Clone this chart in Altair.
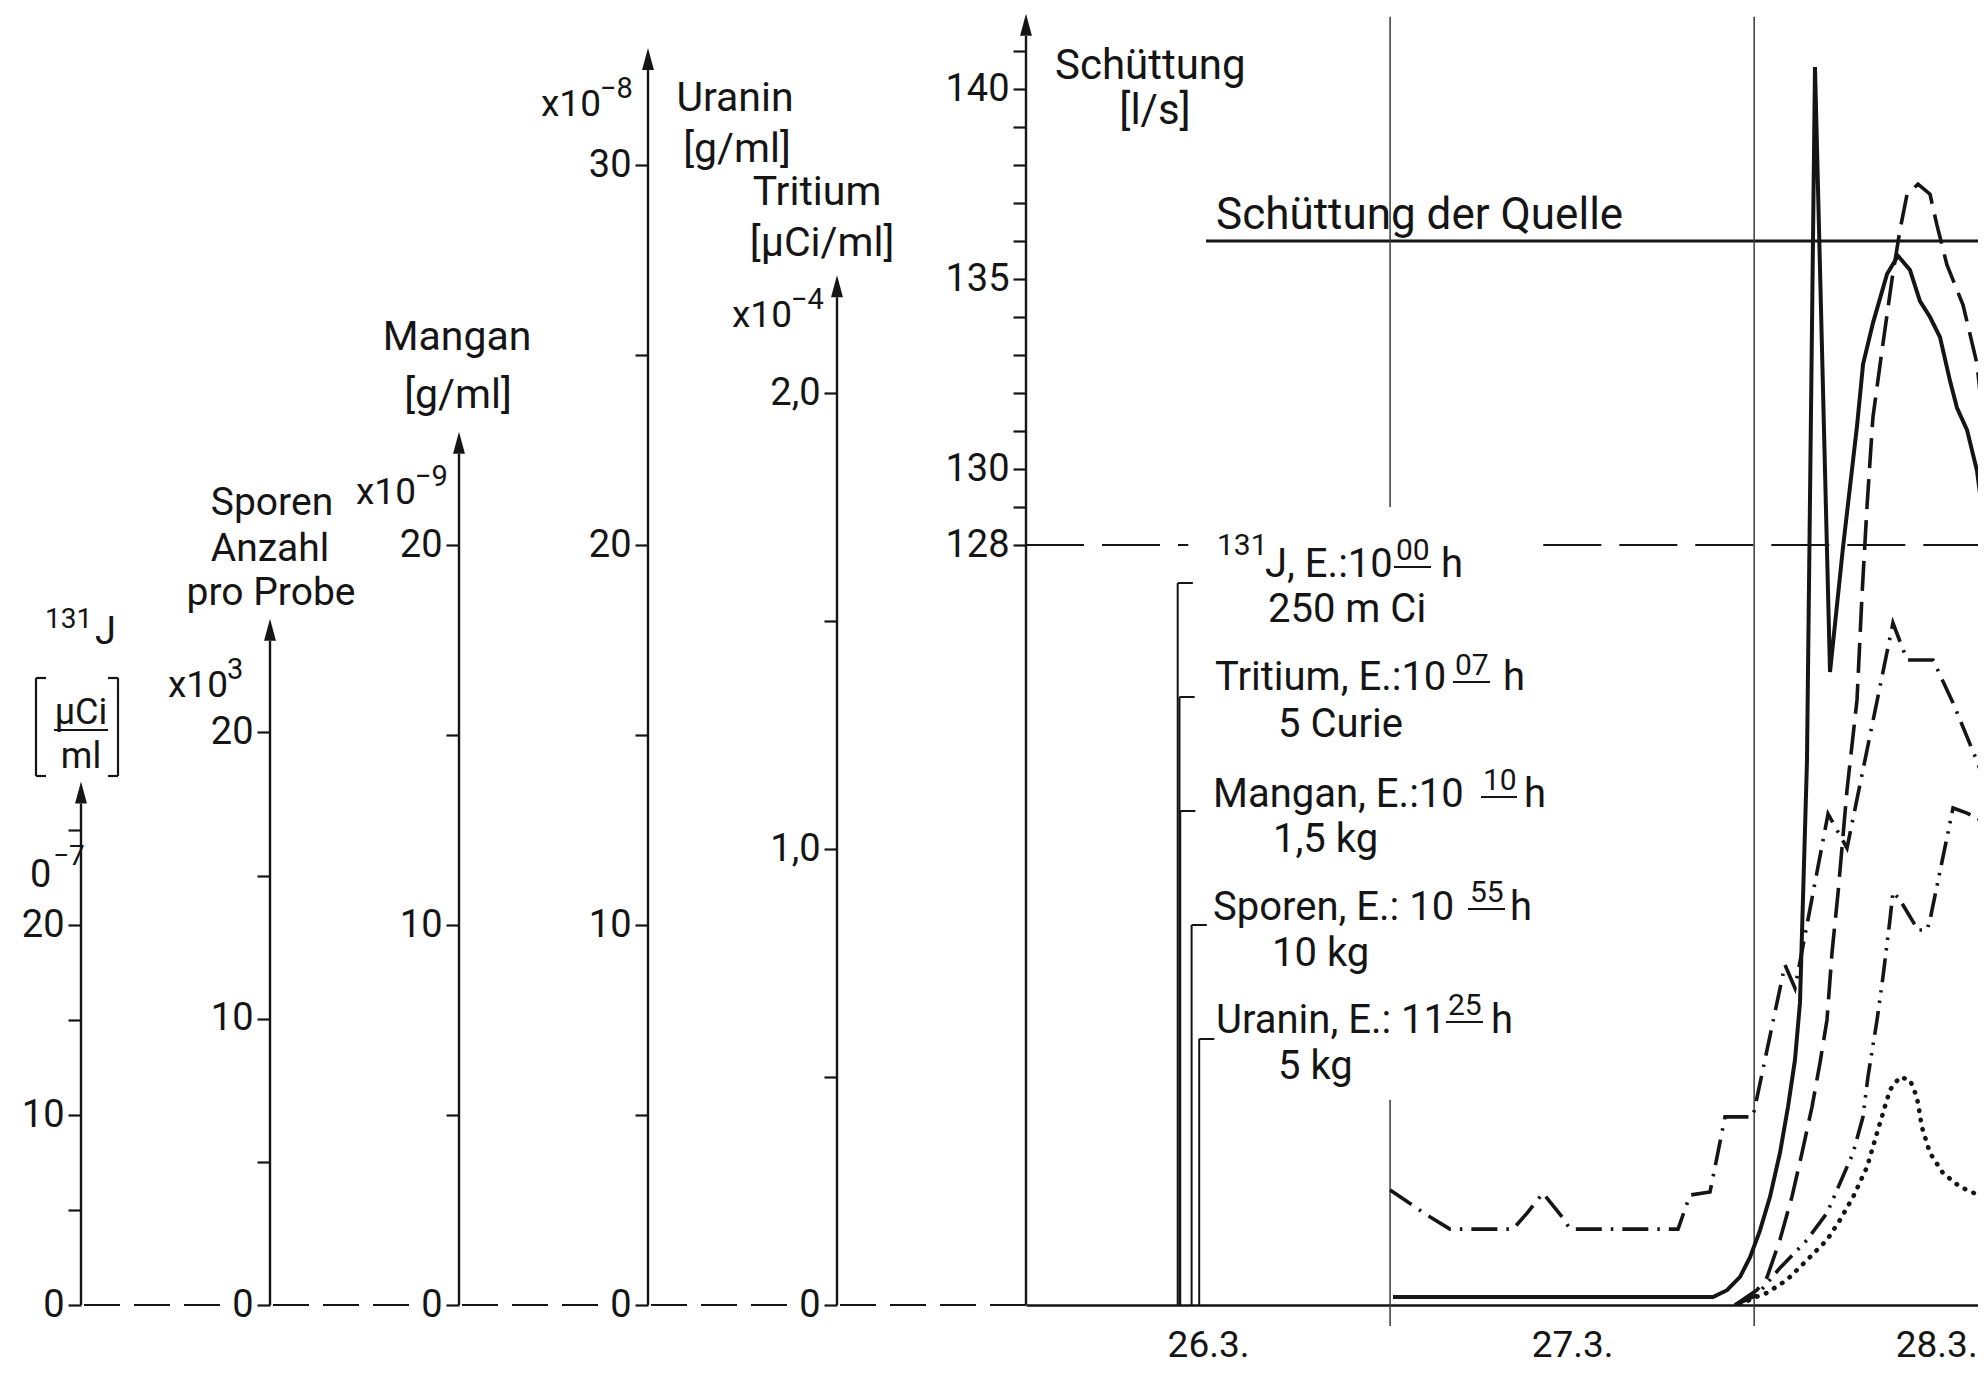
import altair as alt
import pandas as pd

INK = "#151515"
FONT = "Roboto"

# ---------------- data ----------------
# time axis: hours after 26.3. 00:00
day_labels = ["26.3.", "27.3.", "28.3."]
day_label_hours = [12, 36, 60]
day_line_hours = [24, 48]

# injections (Eingabe) of the tracers on 26.3.
inj_tracer = ["131J", "Tritium", "Mangan", "Sporen", "Uranin"]
inj_hour = [10 + 0 / 60, 10 + 7 / 60, 10 + 10 / 60, 10 + 55 / 60, 11 + 25 / 60]
inj_level = [127, 124, 121, 118, 115]  # l/s level of the label bracket

# spring discharge
quelle_ls = 136
quelle_from_h = 11.87
ref_ls = 128

# Uranin [x10^-8 g/ml]  (solid)
uranin_h = [24.19, 45.29, 46.21, 47.07, 47.73, 48.39, 49.04, 49.70, 50.23, 50.69,
            51.02, 51.48, 52.01, 53.0, 53.86, 54.78, 55.18, 55.83, 56.76, 57.48,
            58.27, 58.93, 59.59, 60.25, 60.91, 61.37, 62.03, 62.69, 63.28]
uranin_v = [0.21, 0.21, 0.39, 0.74, 1.26, 1.97, 2.84, 4.0, 5.21, 6.45,
            7.95, 14.29, 32.58, 16.66, 19.95, 23.13, 24.76, 25.84, 27.13, 27.61,
            27.24, 26.42, 26.0, 25.47, 24.32, 23.61, 23.03, 21.95, 20.18]

# Tritium [x10^-4 µCi/ml]  (dashed)
tritium_h = [46.74, 48.19, 48.85, 49.70, 50.49, 51.15, 51.81, 52.34, 52.80, 53.13,
             53.53, 54.12, 54.78, 55.11, 55.44, 55.83, 56.43, 57.09, 57.61, 58.08,
             58.80, 59.59, 60.05, 60.71, 61.77, 62.69, 63.28]
tritium_v = [0, 0.033, 0.061, 0.143, 0.237, 0.333, 0.434, 0.531, 0.625, 0.772,
             0.904, 1.129, 1.327, 1.557, 1.752, 1.947, 2.094, 2.25, 2.357, 2.436,
             2.458, 2.436, 2.368, 2.281, 2.193, 2.064, 1.879]

# Sporen [x10^3 Anzahl pro Probe]  (dash-dot)
sporen_h = [24.0, 26.43, 27.95, 32.10, 33.03, 34.08, 35.40, 35.86, 42.98, 43.77,
            45.09, 46.08, 47.92, 50.03, 50.69, 52.87, 54.12, 57.15, 58.08, 59.79,
            61.11, 62.69, 63.28]
sporen_v = [4.02, 3.14, 2.65, 2.65, 3.21, 3.91, 3.04, 2.65, 2.65, 3.84,
            3.95, 6.57, 6.57, 11.88, 11.07, 17.15, 15.96, 23.82, 22.53, 22.53,
            21.03, 19.0, 18.13]

# 131J [x10^-7 µCi/ml]  (dash-dot-dot)
j131_h = [46.74, 48.19, 49.70, 51.48, 52.80, 53.66, 54.52, 55.17, 55.50, 56.10,
          56.49, 56.95, 57.15, 57.61, 58.80, 59.39, 59.59, 61.11, 62.03, 62.69, 63.28]
j131_v = [0, 0.53, 1.95, 3.42, 4.84, 6.42, 8.0, 9.89, 12.0, 15.0,
          17.26, 20.26, 21.74, 21.32, 19.74, 19.74, 20.26, 26.16, 25.89, 25.63, 25.37]

# Mangan [x10^-9 g/ml]  (dotted)
mangan_h = [47.07, 47.92, 48.85, 50.16, 51.48, 52.80, 53.66, 54.52, 55.44, 56.10,
            56.49, 56.95, 57.61, 58.27, 58.73, 59.06, 59.59, 60.45, 61.57, 63.08]
mangan_v = [0, 0.18, 0.32, 0.66, 1.18, 1.71, 2.24, 2.84, 3.63, 4.53,
            5.05, 5.66, 6.0, 5.92, 5.47, 4.68, 4.0, 3.47, 3.11, 2.84]

# ---------------- layout ----------------
PX0, PY0 = 1026, 13          # page position of the plot area's top-left corner
W, H = 952, 1292
PX_PER_H = 15.17
XMAX = W / PX_PER_H
AXIS_PX = [81, 270, 459, 648, 837, 1026]   # page x of the six vertical axes
ARROW = "M-0.27,0 L0,-1 L0.27,0 Z"

xsc = alt.Scale(domain=[0, XMAX], nice=False, zero=False)
QUIET = alt.Axis(title="")   # sibling layers: merge into the one defined axis


def px(x):
    return alt.value(x - PX0)


def py(y):
    return alt.value(y - PY0)


def yaxis(ax_px, values, expr):
    return alt.Axis(orient="left", offset=PX0 - ax_px, domain=False, values=values,
                    labelExpr=expr, tickSize=13, tickWidth=2.2, tickColor=INK,
                    labelFontSize=38, labelFont=FONT, labelColor=INK, labelPadding=4,
                    grid=False, title="", labelOverlap=False, labelBound=False,
                    ticks=True, labels=True)


def tracer(h, v, dom, top, ax_px, values, expr, dash, width=3.6, cap="butt"):
    sc = alt.Scale(domain=dom, nice=False, zero=False)
    base = alt.Chart(pd.DataFrame({"lo": [dom[0]], "hi": [top]}))
    line = base.mark_rule(color=INK, strokeWidth=2.4).encode(
        x=alt.value(ax_px - PX0),
        y=alt.Y("lo:Q", scale=sc, axis=yaxis(ax_px, values, expr)),
        y2="hi:Q")
    arrow = base.mark_point(shape=ARROW, filled=True, size=1936, color=INK,
                            opacity=1, strokeWidth=0).encode(
        x=alt.value(ax_px - PX0), y=alt.Y("hi:Q", scale=sc, axis=QUIET))
    mk = dict(color=INK, strokeWidth=width, clip=True, strokeCap=cap)
    if dash:
        mk["strokeDash"] = dash
    curve = alt.Chart(pd.DataFrame({"h": h, "v": v})).mark_line(**mk).encode(
        x=alt.X("h:Q", scale=xsc, axis=QUIET),
        y=alt.Y("v:Q", scale=sc, axis=QUIET))
    return alt.layer(line, arrow, curve)


tens = "datum.value % 10 == 0 ? datum.label : ''"
l_j131 = tracer(j131_h, j131_v, [0, H / 19.0], 26.4, AXIS_PX[0], [0, 5, 10, 15, 20, 25],
                tens, [24, 8, 2.5, 8, 2.5, 8])
l_sporen = tracer(sporen_h, sporen_v, [0, H / 28.63], 23.2, AXIS_PX[1], [0, 5, 10, 15, 20],
                  tens, [26, 9, 2.5, 9])
l_mangan = tracer(mangan_h, mangan_v, [0, H / 38.0], 22.4, AXIS_PX[2], [0, 5, 10, 15, 20],
                  tens, [0.5, 9], width=4.6, cap="round")
l_uranin = tracer(uranin_h, uranin_v, [0, H / 38.0], 32.5, AXIS_PX[3],
                  [0, 5, 10, 15, 20, 25, 30], tens, None, width=4.0)
l_tritium = tracer(tritium_h, tritium_v, [0, H / 456.0], 2.21, AXIS_PX[4],
                   [0, 0.5, 1, 1.5, 2],
                   "datum.value == 0 ? '0' : (datum.value % 1 == 0 ? "
                   "replace(format(datum.value, '.1f'), '.', ',') : '')",
                   [30, 11])

# ---- Schüttung layer (l/s) ----
s_dom = [108, 142]
ssc = alt.Scale(domain=s_dom, nice=False, zero=False)
sbase = alt.Chart(pd.DataFrame({"lo": [s_dom[0]], "hi": [141.4]}))
s_axis = sbase.mark_rule(color=INK, strokeWidth=2.4).encode(
    x=alt.value(0),
    y=alt.Y("lo:Q", scale=ssc, axis=yaxis(PX0, list(range(128, 142)),
                                         "(datum.value == 128 || datum.value % 5 == 0) ? datum.label : ''")),
    y2="hi:Q")
s_arrow = sbase.mark_point(shape=ARROW, filled=True, size=1936, color=INK,
                           opacity=1, strokeWidth=0).encode(
    x=alt.value(0), y=alt.Y("hi:Q", scale=ssc, axis=QUIET))

xaxis = alt.Axis(values=day_label_hours,
                 labelExpr="datum.value == %d ? '%s' : datum.value == %d ? '%s' : '%s'" % (
                     day_label_hours[0], day_labels[0], day_label_hours[1], day_labels[1], day_labels[2]),
                 ticks=False, domain=True, domainColor=INK, domainWidth=2.5,
                 labelFontSize=37, labelFont=FONT, labelColor=INK, labelPadding=22,
                 grid=False, title="", labelFlush=False, labelBound=False,
                 labelOverlap=False, labels=True, orient="bottom")

quelle = alt.Chart(pd.DataFrame({"h0": [quelle_from_h], "h1": [XMAX], "v": [quelle_ls]})) \
    .mark_rule(color=INK, strokeWidth=3).encode(
    x=alt.X("h0:Q", scale=xsc, axis=xaxis), x2="h1:Q",
    y=alt.Y("v:Q", scale=ssc, axis=QUIET))

ref128 = alt.Chart(pd.DataFrame({"h0": [0, 34.1], "h1": [10.7, XMAX], "v": [ref_ls, ref_ls]})) \
    .mark_rule(color=INK, strokeWidth=2.2, strokeDash=[58, 18]).encode(
    x=alt.X("h0:Q", scale=xsc, axis=QUIET), x2="h1:Q",
    y=alt.Y("v:Q", scale=ssc, axis=QUIET))

daylines = alt.Chart(pd.DataFrame({
    "h": [day_line_hours[0], day_line_hours[0], day_line_hours[1]],
    "y0": [141.9, 113.4, 141.9], "y1": [129.0, 107.45, 107.45]})) \
    .mark_rule(color="#3a3a3a", strokeWidth=1.5).encode(
    x=alt.X("h:Q", scale=xsc, axis=QUIET),
    y=alt.Y("y0:Q", scale=ssc, axis=QUIET), y2="y1:Q")

inj_df = pd.DataFrame({"h": inj_hour, "h1": [t + 1.0 for t in inj_hour],
                       "lo": [s_dom[0]] * 5, "top": inj_level})
inj_v = alt.Chart(inj_df).mark_rule(color=INK, strokeWidth=2).encode(
    x=alt.X("h:Q", scale=xsc, axis=QUIET),
    y=alt.Y("lo:Q", scale=ssc, axis=QUIET), y2="top:Q")
inj_t = alt.Chart(inj_df).mark_rule(color=INK, strokeWidth=2).encode(
    x=alt.X("h:Q", scale=xsc, axis=QUIET), x2="h1:Q",
    y=alt.Y("top:Q", scale=ssc, axis=QUIET))

l_schuett = alt.layer(s_axis, s_arrow, quelle, ref128, daylines, inj_v, inj_t)

# ---- decorations: dashed zero line linking the axes ----
deco = []
for i in range(5):
    x1 = AXIS_PX[i] + 3
    x2 = AXIS_PX[i + 1] - (0 if i == 4 else 46)
    deco.append(alt.Chart(alt.Data(values=[{}])).mark_rule(
        color=INK, strokeWidth=2.2, strokeDash=[36, 14]).encode(
        x=px(x1), x2=px(x2), y=alt.value(H)))

# straight segments: (x1, y1, x2, y2) in page px (fraction bar, brackets, underlines)
segs = [
    (54, 730, 108, 730),
    (36, 678, 36, 776), (36, 678, 46, 678), (36, 776, 46, 776),
    (118, 678, 118, 776), (108, 678, 118, 678), (108, 776, 118, 776),
    (1394, 567, 1431, 567), (1453, 682, 1490, 682), (1481, 797, 1517, 797),
    (1468, 909, 1505, 909), (1446, 1022, 1483, 1022),
]
for (a, b, c, d) in segs:
    deco.append(alt.Chart(alt.Data(values=[{}])).mark_rule(
        color=INK, strokeWidth=2.2).encode(x=px(a), y=py(b), x2=px(c), y2=py(d)))

texts = [
    ("131", 45, 628, 28, "left"), ("J", 95, 644, 38, "left"),
    ("µCi", 81, 724, 36, "center"), ("ml", 81, 768, 36, "center"),
    ("0", 30, 887, 38, "left"), ("−7", 53, 865, 28, "left"),
    ("Sporen", 272, 515, 39, "center"), ("Anzahl", 270, 561, 39, "center"),
    ("pro Probe", 271, 605, 39, "center"),
    ("x10", 168, 697, 37, "left"), ("3", 227, 679, 29, "left"),
    ("x10", 356, 504, 37, "left"), ("−9", 415, 486, 29, "left"),
    ("Mangan", 457, 350, 41, "center"), ("[g/ml]", 458, 408, 41, "center"),
    ("x10", 541, 116, 37, "left"), ("−8", 600, 98, 29, "left"),
    ("Uranin", 735, 111, 41, "center"), ("[g/ml]", 737, 162, 41, "center"),
    ("Tritium", 817, 205, 41, "center"), ("[µCi/ml]", 822, 256, 41, "center"),
    ("x10", 732, 327, 37, "left"), ("−4", 791, 309, 29, "left"),
    ("Schüttung", 1055, 79, 42, "left"), ("[l/s]", 1155, 124, 42, "center"),
    ("Schüttung der  Quelle", 1216, 229, 44, "left"),
    ("131", 1217, 555, 30, "left"), ("J, E.:10", 1265, 577, 40, "left"),
    ("00", 1396, 560, 30, "left"), ("h", 1441, 577, 40, "left"),
    ("250 m Ci", 1268, 622, 40, "left"),
    ("Tritium, E.:10", 1215, 690, 40, "left"), ("07", 1455, 675, 30, "left"),
    ("h", 1503, 690, 40, "left"), ("5 Curie", 1278, 737, 40, "left"),
    ("Mangan, E.:10", 1213, 807, 40, "left"), ("10", 1483, 790, 30, "left"),
    ("h", 1524, 807, 40, "left"), ("1,5 kg", 1273, 852, 40, "left"),
    ("Sporen, E.: 10", 1213, 920, 40, "left"), ("55", 1470, 902, 30, "left"),
    ("h", 1510, 920, 40, "left"), ("10 kg", 1272, 966, 40, "left"),
    ("Uranin, E.: 11", 1216, 1033, 40, "left"), ("25", 1448, 1015, 30, "left"),
    ("h", 1491, 1033, 40, "left"), ("5 kg", 1278, 1079, 40, "left"),
]
for (t, x, y, s, a) in texts:
    deco.append(alt.Chart(alt.Data(values=[{}])).mark_text(
        text=t, fontSize=s, font=FONT, align=a, baseline="alphabetic", color=INK).encode(
        x=px(x), y=py(y)))

chart = alt.layer(l_schuett, l_j131, l_sporen, l_mangan, l_uranin, l_tritium, *deco) \
    .resolve_scale(y="independent") \
    .properties(width=W, height=H, autosize=alt.AutoSizeParams(type="none"),
                padding={"left": PX0 - 8, "top": PY0 - 8, "right": 0, "bottom": 70},
                background="white") \
    .configure_view(stroke=None)

chart.save("out.html", embed_options={"renderer": "svg", "actions": False})
